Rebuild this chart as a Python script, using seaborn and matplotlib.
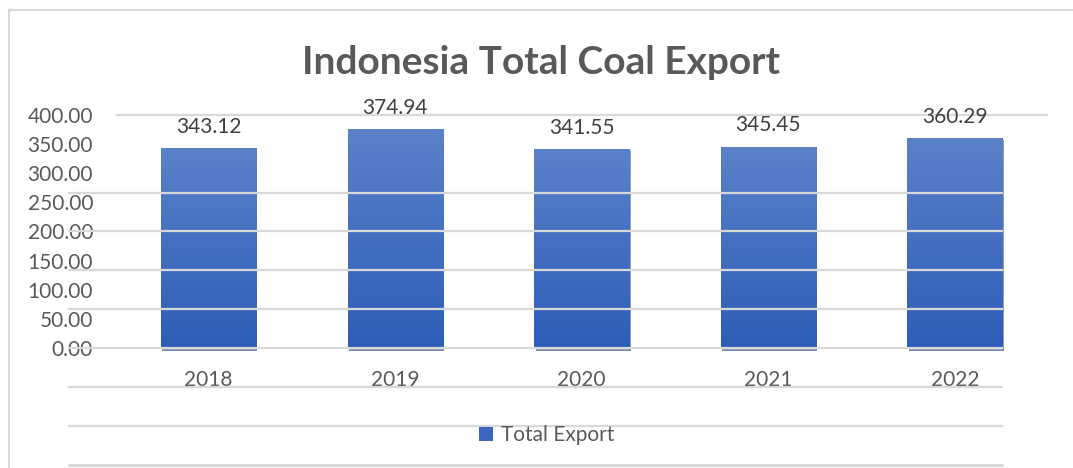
import numpy as np
import pandas as pd
import matplotlib
matplotlib.use("Agg")
import matplotlib.pyplot as plt
import seaborn as sns
from matplotlib import patheffects as pe
from matplotlib.lines import Line2D
from matplotlib.patches import Patch
from matplotlib.colors import LinearSegmentedColormap

# ---------------- data ----------------
years = ["2018", "2019", "2020", "2021", "2022"]
total_export = [343.12, 374.94, 341.55, 345.45, 360.29]
y_ticks = [0, 50, 100, 150, 200, 250, 300, 350, 400]
grid_levels = [-200, -133.33, -66.67, 0, 66.67, 133.33, 200, 266.67]
top_line_level = 400
title = "Indonesia Total Coal Export"
series_name = "Total Export"

# ---------------- figure ----------------
W, H, DPI = 1073, 468, 100
sns.set_theme(style="white")
plt.rcParams["font.family"] = ["Lato", "DejaVu Sans"]

fig = plt.figure(figsize=(W / DPI, H / DPI), dpi=DPI)
fig.patch.set_facecolor("white")


def px(x0, y0, x1, y1):
    return [x0 / W, 1 - y1 / H, (x1 - x0) / W, (y1 - y0) / H]


ax = fig.add_axes(px(100, 100, 1060, 348))
ax.set_facecolor("none")

df = pd.DataFrame({"year": years, "value": total_export})
sns.barplot(data=df, x="year", y="value", color="#4472C4", width=0.51,
            saturation=1, ax=ax, zorder=2)

# gradient fill + shadow on each bar
cmap = LinearSegmentedColormap.from_list("g", ["#2D5DB8", "#5B81C9"])
grad = np.linspace(0, 1, 256).reshape(-1, 1)
for p in ax.patches:
    x0, y0 = p.get_x(), p.get_y()
    w, h = p.get_width(), p.get_height()
    p.set_clip_on(False)
    p.set_path_effects([pe.SimplePatchShadow(offset=(1.0, -1.8), shadow_rgbFace="#1F3864", alpha=0.6),
                        pe.Normal()])
    im = ax.imshow(grad, extent=[x0, x0 + w, y0, y0 + h], origin="lower", cmap=cmap,
                   aspect="auto", zorder=2.1, interpolation="bilinear")
    im.set_clip_path(p)

ax.set_xlim(-0.5815, 4.5633)
ax.set_ylim(0, 425.4)

for s in ax.spines.values():
    s.set_visible(False)
ax.grid(False)
ax.set_xlabel("")
ax.set_ylabel("")

ax.set_yticks(y_ticks)
ax.set_yticklabels([f"{v:.2f}" for v in y_ticks])
ax.tick_params(axis="y", length=0, pad=5, labelsize=15, labelcolor="#595959")
ax.tick_params(axis="x", length=0, pad=16, labelsize=15, labelcolor="#595959")

# gridlines (drawn over bars, as in reference)
trans = ax.get_yaxis_transform()
for i, v in enumerate(grid_levels):
    ax.plot([-0.0333, 0.9406], [v, v], transform=trans, color="#D9D9D9",
            lw=2.2 if i == 0 else 1.6, clip_on=False, zorder=3, solid_capstyle="butt")
ax.plot([0.01667, 0.9875], [top_line_level, top_line_level], transform=trans,
        color="#D9D9D9", lw=1.6, clip_on=False, zorder=3, solid_capstyle="butt")

# data labels
ax.bar_label(ax.containers[0], fmt="%.2f", padding=8, fontsize=15, color="#404040")

# legend
fig.legend(handles=[Patch(facecolor="#3C67BE", edgecolor="none", label=series_name)],
           loc="center", bbox_to_anchor=(547 / W, 1 - 435 / H), frameon=False,
           fontsize=15, handlelength=0.65, handleheight=0.65, handletextpad=0.4,
           labelcolor="#595959")

# chart border (left and top visible)
fig.add_artist(Line2D([9 / W, 9 / W], [0, 1 - 10 / H], color="#D9D9D9", lw=1.5,
                      transform=fig.transFigure))
fig.add_artist(Line2D([9 / W, 1], [1 - 10 / H, 1 - 10 / H], color="#D9D9D9", lw=1.5,
                      transform=fig.transFigure))

# title
t = fig.text(541 / W, 1 - 62 / H, title, ha="center", va="center", fontsize=28,
             fontweight="bold", color="#595959")
fig.canvas.draw()
bb = t.get_window_extent()
t.set_fontsize(28 * 478 / bb.width)

fig.savefig("out.png", dpi=DPI)
